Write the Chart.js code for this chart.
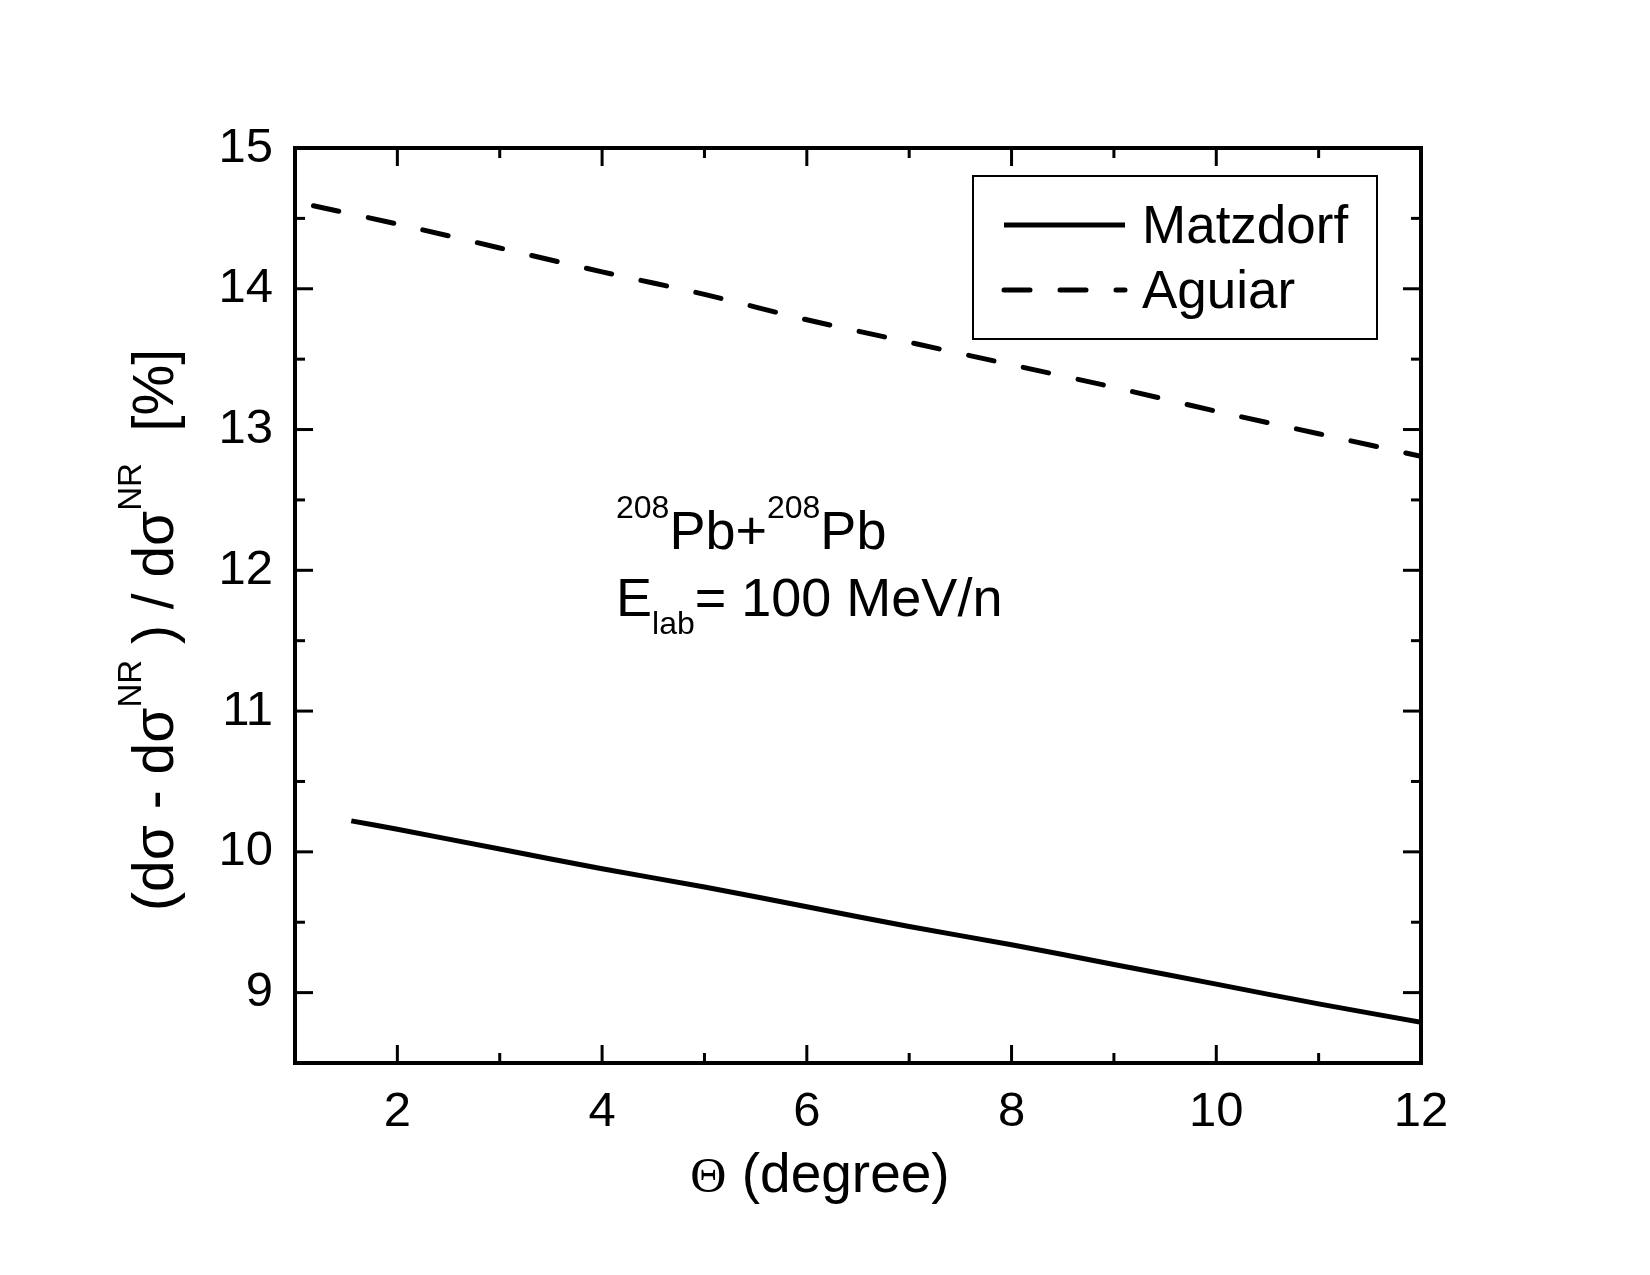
<!DOCTYPE html>
<html>
<head>
<meta charset="utf-8">
<script src="https://cdn.jsdelivr.net/npm/chart.js@4/dist/chart.umd.min.js"></script>
<style>
html,body{margin:0;padding:0;background:#fff;}
#wrap{width:1650px;height:1275px;}
</style>
</head>
<body>
<div id="wrap"><canvas id="c" width="1650" height="1275"></canvas></div>
<script>
// ---- data ----
const matzdorfX = [1.55, 2, 3, 4, 5, 6, 7, 8, 9, 10, 11, 12];
const matzdorfY = [10.22, 10.16, 10.02, 9.88, 9.75, 9.61, 9.47, 9.34, 9.20, 9.06, 8.92, 8.79];
const aguiarX = [1.18, 2, 3, 4, 5, 6, 7, 8, 9, 10, 11, 12];
const aguiarY = [14.59, 14.46, 14.29, 14.12, 13.96, 13.78, 13.62, 13.46, 13.30, 13.13, 12.97, 12.81];
const seriesNames = ['Matzdorf', 'Aguiar'];
const xTicks = [2, 4, 6, 8, 10, 12];
const xMinorTicks = [1, 3, 5, 7, 9, 11];
const yTicks = [9, 10, 11, 12, 13, 14, 15];
const yMinorTicks = [8.5, 9.5, 10.5, 11.5, 12.5, 13.5, 14.5];
const xRange = [1, 12];
const yRange = [8.5, 15];

const FONT = '"Liberation Sans", Arial, sans-serif';

function toPts(xs, ys){ return xs.map((x,i)=>({x:x, y:ys[i]})); }

function drawRich(ctx, parts, x0, y0, measureOnly){
  let x = x0;
  parts.forEach(p=>{
    ctx.font = p.size + 'px ' + (p.family || FONT);
    const w = ctx.measureText(p.t).width;
    if(!measureOnly) ctx.fillText(p.t, x, y0 + (p.dy||0));
    x += w;
  });
  return x - x0;
}

const decor = {
  id: 'decor',
  afterDraw(chart){
    const ctx = chart.ctx, a = chart.chartArea;
    const xs = chart.scales.x, ys = chart.scales.y;
    ctx.save();
    ctx.strokeStyle = '#000';
    ctx.fillStyle = '#000';
    // frame
    ctx.lineWidth = 4;
    ctx.lineJoin = 'miter';
    ctx.strokeRect(a.left, a.top, a.right - a.left, a.bottom - a.top);
    // ticks (inward, mirrored)
    ctx.lineWidth = 3;
    const seg = (x1,y1,x2,y2)=>{ctx.beginPath();ctx.moveTo(x1,y1);ctx.lineTo(x2,y2);ctx.stroke();};
    xTicks.forEach(v=>{const p=xs.getPixelForValue(v); seg(p,a.bottom,p,a.bottom-18); seg(p,a.top,p,a.top+18);});
    xMinorTicks.forEach(v=>{const p=xs.getPixelForValue(v); seg(p,a.bottom,p,a.bottom-10); seg(p,a.top,p,a.top+10);});
    yTicks.forEach(v=>{const p=ys.getPixelForValue(v); seg(a.left,p,a.left+18,p); seg(a.right,p,a.right-18,p);});
    yMinorTicks.forEach(v=>{const p=ys.getPixelForValue(v); seg(a.left,p,a.left+10,p); seg(a.right,p,a.right-10,p);});

    // legend box
    const lx = 973, ly = 176, lw = 404, lh = 163;
    ctx.lineWidth = 2;
    ctx.strokeRect(lx, ly, lw, lh);
    const dsets = chart.data.datasets;
    const rows = [225, 290];
    dsets.forEach((d,i)=>{
      ctx.save();
      ctx.lineWidth = d.borderWidth;
      ctx.lineCap = d.borderCapStyle || 'butt';
      ctx.setLineDash(d.borderDash || []);
      ctx.beginPath();
      ctx.moveTo(1004, rows[i]);
      ctx.lineTo(1125, rows[i]);
      ctx.stroke();
      ctx.restore();
      ctx.font = '53px ' + FONT;
      ctx.textBaseline = 'alphabetic';
      ctx.textAlign = 'left';
      ctx.fillText(d.label, 1142, rows[i] + 18);
    });

    // annotation
    ctx.textAlign = 'left';
    ctx.textBaseline = 'alphabetic';
    drawRich(ctx, [
      {t:'208', size:32, dy:-31},
      {t:'Pb+', size:54},
      {t:'208', size:32, dy:-31},
      {t:'Pb', size:54}
    ], 616, 549);
    drawRich(ctx, [
      {t:'E', size:54},
      {t:'lab', size:32, dy:18},
      {t:'= 100 MeV/n', size:54}
    ], 616, 616);

    // x title
    const xt = [
      {t:'\u0398', size:50, family:'"Liberation Serif", serif'},
      {t:' (degree)', size:55}
    ];
    const xw = drawRich(ctx, xt, 0, 0, true);
    drawRich(ctx, xt, 820 - xw/2, 1192);

    // y title (rotated)
    const yt = [
      {t:'(d\u03C3 - d\u03C3', size:57},
      {t:'NR', size:33, dy:-32},
      {t:' ) / d\u03C3', size:57},
      {t:'NR', size:33, dy:-32},
      {t:'  [%]', size:57}
    ];
    const yw = drawRich(ctx, yt, 0, 0, true);
    ctx.translate(173, 630);
    ctx.rotate(-Math.PI/2);
    drawRich(ctx, yt, -yw/2, 0);
    ctx.restore();
  }
};

new Chart(document.getElementById('c'), {
  type: 'line',
  data: {
    datasets: [
      {
        label: seriesNames[0],
        data: toPts(matzdorfX, matzdorfY),
        borderColor: '#000',
        borderWidth: 5,
        pointRadius: 0,
        tension: 0.3,
        fill: false
      },
      {
        label: seriesNames[1],
        data: toPts(aguiarX, aguiarY),
        borderColor: '#000',
        borderWidth: 5,
        borderDash: [26, 30],
        borderCapStyle: 'round',
        pointRadius: 0,
        tension: 0.3,
        fill: false
      }
    ]
  },
  options: {
    responsive: false,
    animation: false,
    devicePixelRatio: 1,
    layout: { padding: { left: 0, top: 148, right: 229, bottom: 0 } },
    plugins: { legend: { display: false }, tooltip: { enabled: false }, title: { display: false } },
    scales: {
      x: {
        type: 'linear',
        min: xRange[0], max: xRange[1],
        afterBuildTicks: s => { s.ticks = xTicks.map(v => ({ value: v })); },
        afterFit: s => { s.height = 212; },
        grid: { display: false, drawTicks: false },
        border: { display: false },
        ticks: { color: '#000', font: { family: FONT, size: 49 }, padding: 20, maxRotation: 0, autoSkip: false }
      },
      y: {
        type: 'linear',
        min: yRange[0], max: yRange[1],
        afterBuildTicks: s => { s.ticks = yTicks.map(v => ({ value: v })); },
        afterFit: s => { s.width = 295; },
        grid: { display: false, drawTicks: false },
        border: { display: false },
        ticks: { color: '#000', font: { family: FONT, size: 49 }, padding: 22, autoSkip: false }
      }
    }
  },
  plugins: [decor]
});
</script>
</body>
</html>
